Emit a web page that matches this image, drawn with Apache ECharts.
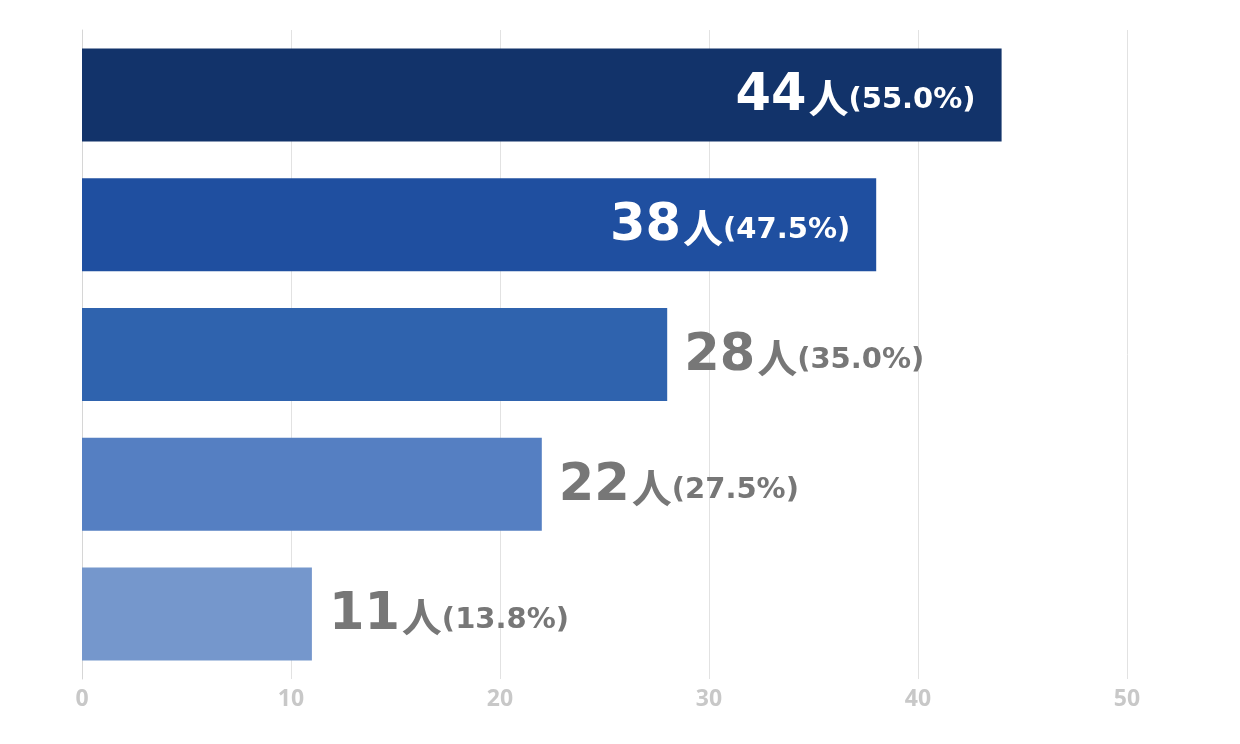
<!DOCTYPE html>
<html>
<head>
<meta charset="utf-8">
<script src="https://cdn.jsdelivr.net/npm/echarts@6/dist/echarts.min.js"></script>
<style>
  html, body { margin: 0; padding: 0; background: #fff; }
  #chart { width: 1240px; height: 744px; }
</style>
</head>
<body>
<div id="chart"></div>
<script>
// 回答の選択肢（ラベルは非表示）
const categories = ['項目1', '項目2', '項目3', '項目4', '項目5'];
// 人数
const counts = [44, 38, 28, 22, 11];
// 割合
const percents = ['55.0', '47.5', '35.0', '27.5', '13.8'];
const barColors = ['#12336a', '#1f4fa0', '#2f63ae', '#557fc2', '#7597cc'];
const xTicks = [0, 10, 20, 30, 40, 50];

const richStyle = (color) => ({
  num: { fontSize: 51, fontWeight: 'bold', color: color, fontFamily: 'DejaVu Sans', padding: [4, 0, 0, 0] },
  unit: { fontSize: 40, fontWeight: 'bold', color: color, fontFamily: 'Noto Sans CJK JP', padding: [6, 0, 0, 2] },
  pct: { fontSize: 29, fontWeight: 'bold', color: color, fontFamily: 'DejaVu Sans', padding: [12, 0, 0, 0] }
});

const seriesData = counts.map((v, i) => {
  const inside = i < 2;
  return {
    value: v,
    itemStyle: { color: barColors[i] },
    label: {
      show: true,
      position: inside ? 'insideRight' : 'right',
      distance: inside ? 26 : 17,
      formatter: '{num|' + v + '}{unit|人}{pct|(' + percents[i] + '%)}',
      rich: richStyle(inside ? '#ffffff' : '#777777')
    }
  };
});

var myChart = echarts.init(document.getElementById('chart'));
myChart.setOption({
  animation: false,
  grid: { left: 82, right: 113, top: 30, bottom: 65 },
  xAxis: {
    type: 'value',
    min: xTicks[0],
    max: xTicks[xTicks.length - 1],
    interval: 10,
    axisLine: { show: false },
    axisTick: { show: false },
    axisLabel: { color: '#c8c8c8', fontSize: 23, fontWeight: 'bold', margin: 9, fontFamily: 'Noto Sans' },
    splitLine: { lineStyle: { color: '#e2e2e2', width: 1 } }
  },
  yAxis: {
    type: 'category',
    data: categories,
    inverse: true,
    axisLine: { show: true, lineStyle: { color: '#d6d6d6' } },
    axisTick: { show: false },
    axisLabel: { show: false }
  },
  series: [{
    type: 'bar',
    barWidth: 93,
    data: seriesData
  }]
});
</script>
</body>
</html>
